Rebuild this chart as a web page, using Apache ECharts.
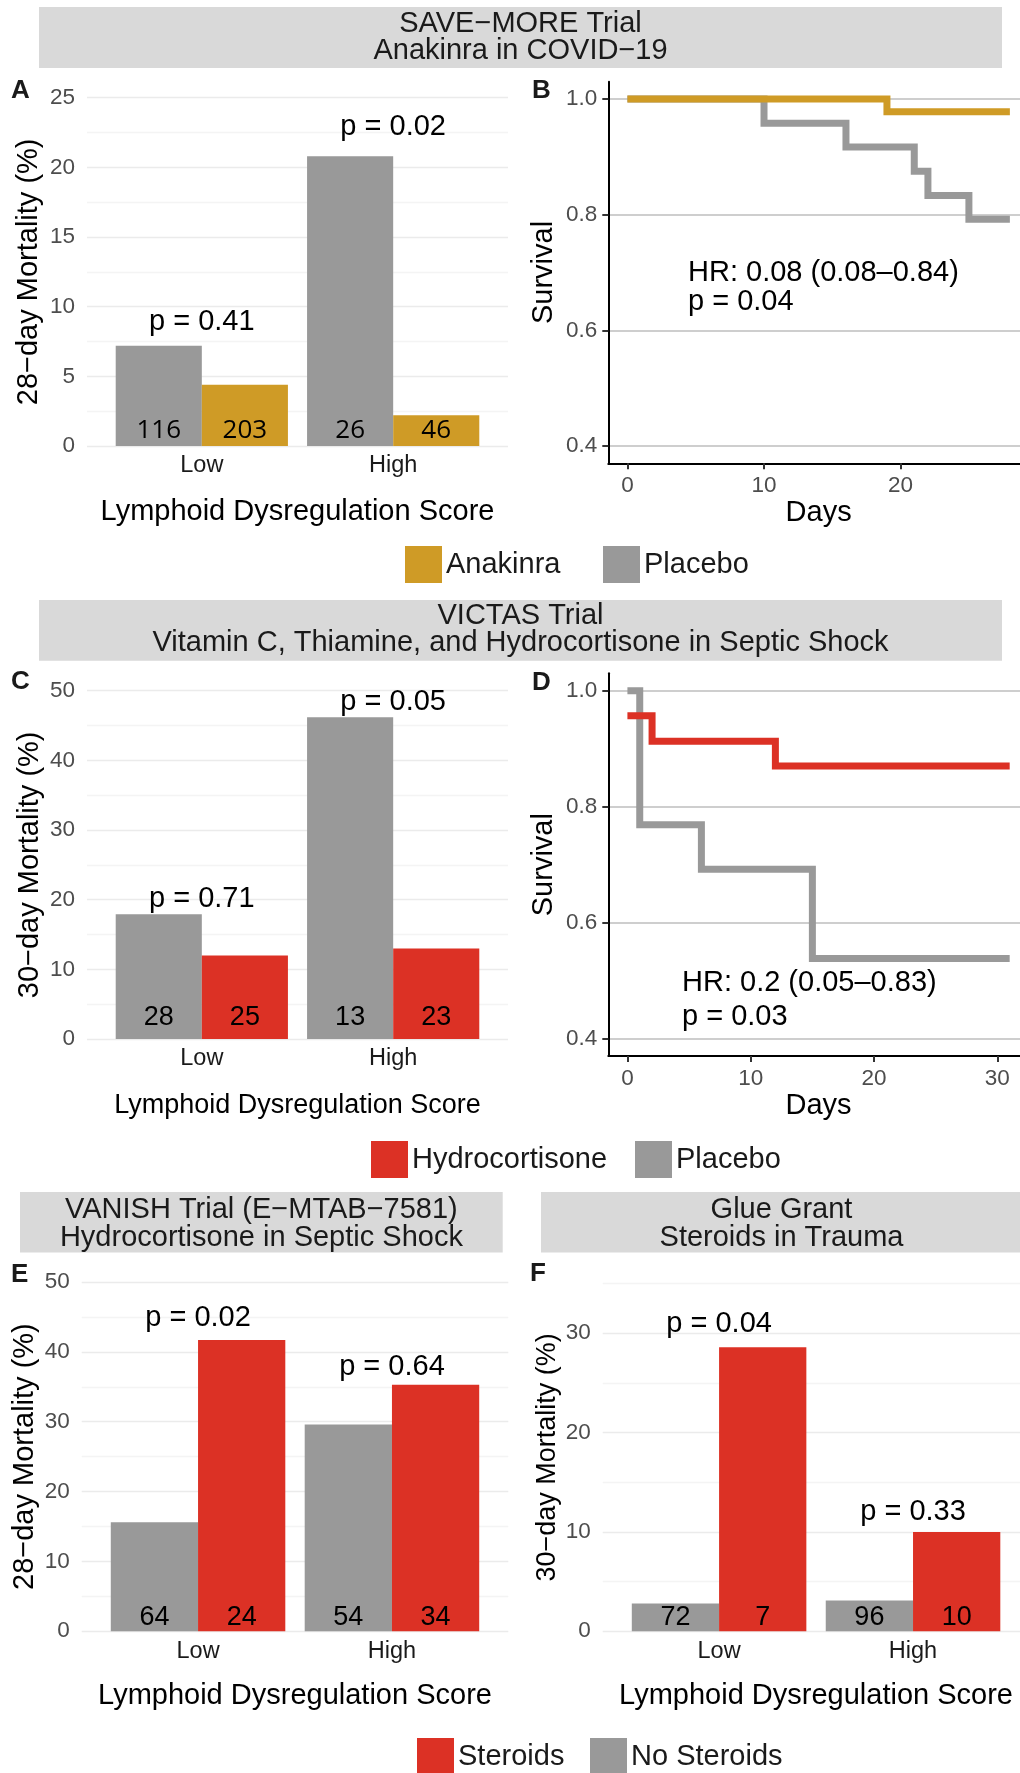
<!DOCTYPE html>
<html><head><meta charset="utf-8">
<script src="https://cdn.jsdelivr.net/npm/echarts@6/dist/echarts.min.js"></script>
<style>html,body{margin:0;padding:0;background:#fff}#c{width:1020px;height:1773px}</style>
</head><body><div id="c"></div>
<script>
// ---------------- DATA ----------------
const categories = ['Low', 'High'];

// Panel A: SAVE-MORE 28-day mortality (%)
const saveMorePlacebo = [7.2, 20.8];
const saveMoreAnakinra = [4.4, 2.2];
const saveMorePlaceboN = [116, 26];
const saveMoreAnakinraN = [203, 46];
const saveMoreP = ['p = 0.41', 'p = 0.02'];

// Panel B: SAVE-MORE Kaplan-Meier (High group)
const kmBPlaceboDays = [0, 10, 16, 21, 22, 25, 28];
const kmBPlaceboSurv = [1.0, 0.958, 0.917, 0.875, 0.833, 0.792, 0.792];
const kmBAnakinraDays = [0, 19, 28];
const kmBAnakinraSurv = [1.0, 0.978, 0.978];
const kmBTicksX = [0, 10, 20];

// Panel C: VICTAS 30-day mortality (%)
const victasPlacebo = [17.9, 46.2];
const victasHydro = [12.0, 13.0];
const victasPlaceboN = [28, 13];
const victasHydroN = [25, 23];
const victasP = ['p = 0.71', 'p = 0.05'];

// Panel D: VICTAS Kaplan-Meier
const kmDPlaceboDays = [0, 1, 6, 15, 31];
const kmDPlaceboSurv = [1.0, 0.769, 0.692, 0.538, 0.538];
const kmDHydroDays = [0, 2, 12, 31];
const kmDHydroSurv = [0.957, 0.913, 0.870, 0.870];
const kmDTicksX = [0, 10, 20, 30];

const kmTicksY = [0.4, 0.6, 0.8, 1.0];

// Panel E: VANISH 28-day mortality (%)
const vanishNoSteroids = [15.6, 29.6];
const vanishSteroids = [41.7, 35.3];
const vanishNoSteroidsN = [64, 54];
const vanishSteroidsN = [24, 34];
const vanishP = ['p = 0.02', 'p = 0.64'];

// Panel F: Glue Grant 30-day mortality (%)
const glueNoSteroids = [2.8, 3.1];
const glueSteroids = [28.6, 10.0];
const glueNoSteroidsN = [72, 96];
const glueSteroidsN = [7, 10];
const glueP = ['p = 0.04', 'p = 0.33'];

// ---------------- STYLE ----------------
const FONT = '"Liberation Sans", Arial, Helvetica, sans-serif';
const GRAY = '#999999', GOLD = '#CF9B26', RED = '#DC3125';
const XTITLE = 'Lymphoid Dysregulation Score';
const BIG = 29, TICK = 22.5;

const barPanels = [
  { grid: {left: 87, top: 97.7, width: 421, height: 348.3}, yMax: 25, yStep: 2.5, yMajor: 5,
    yName: '28−day Mortality (%)', yNameSize: BIG, yNameGap: 44, xNameSize: BIG, xNameGap: 51,
    arms: [{name: 'Placebo', color: GRAY, vals: saveMorePlacebo, n: saveMorePlaceboN},
           {name: 'Anakinra', color: GOLD, vals: saveMoreAnakinra, n: saveMoreAnakinraN}],
    p: saveMoreP, pOffset: [24, 29], nOffset: 15, nFont: '"Open Sans", sans-serif', nSize: 26 },
  { grid: {left: 87, top: 690.7, width: 421, height: 348.3}, yMax: 50, yStep: 5, yMajor: 10,
    yName: '30−day Mortality (%)', yNameSize: BIG, yNameGap: 43, xNameSize: 27, xNameGap: 53,
    arms: [{name: 'Placebo', color: GRAY, vals: victasPlacebo, n: victasPlaceboN},
           {name: 'Hydrocortisone', color: RED, vals: victasHydro, n: victasHydroN}],
    p: victasP, pOffset: [15, 15], nOffset: 21, nFont: FONT, nSize: 27 },
  { grid: {left: 81.7, top: 1282, width: 426.6, height: 349.2}, yMax: 50, yStep: 5, yMajor: 10,
    yName: '28−day Mortality (%)', yNameSize: BIG, yNameGap: 42, xNameSize: BIG, xNameGap: 50,
    arms: [{name: 'No Steroids', color: GRAY, vals: vanishNoSteroids, n: vanishNoSteroidsN},
           {name: 'Steroids', color: RED, vals: vanishSteroids, n: vanishSteroidsN}],
    p: vanishP, pOffset: [22, 18], nOffset: 13.5, nFont: FONT, nSize: 27 },
  { grid: {left: 602.7, top: 1283.6, width: 426.7, height: 347.6}, yMax: 35, yStep: 5, yMajor: 10,
    yName: '30−day Mortality (%)', yNameSize: 27, yNameGap: 42, xNameSize: BIG, xNameGap: 50,
    arms: [{name: 'No Steroids', color: GRAY, vals: glueNoSteroids, n: glueNoSteroidsN},
           {name: 'Steroids', color: RED, vals: glueSteroids, n: glueSteroidsN}],
    p: glueP, pOffset: [22.7, 20], nOffset: 13.5, nFont: FONT, nSize: 27 }
];

const kmPanels = [
  { grid: {left: 608.3, top: 81.7, width: 420.7, height: 381.6}, xMin: -1.4, xMax: 29.4, ticksX: kmBTicksX,
    curves: [{name: 'Placebo', color: GRAY, days: kmBPlaceboDays, surv: kmBPlaceboSurv},
             {name: 'Anakinra', color: GOLD, days: kmBAnakinraDays, surv: kmBAnakinraSurv}] },
  { grid: {left: 608.3, top: 673.3, width: 420.5, height: 382.7}, xMin: -1.55, xMax: 32.55, ticksX: kmDTicksX,
    curves: [{name: 'Placebo', color: GRAY, days: kmDPlaceboDays, surv: kmDPlaceboSurv},
             {name: 'Hydrocortisone', color: RED, days: kmDHydroDays, surv: kmDHydroSurv}] }
];

const grids = [], xAxes = [], yAxes = [], series = [];

function isMult(v, m) { const r = v / m; return Math.abs(r - Math.round(r)) < 1e-6; }

barPanels.forEach(function (P) {
  const gi = grids.length;
  grids.push(Object.assign({outerBoundsMode: 'none', containLabel: false}, P.grid));
  xAxes.push({
    gridIndex: gi, type: 'value', min: 0.4, max: 2.6, interval: 0.2,
    axisLine: {show: false, onZero: false}, axisTick: {show: false}, splitLine: {show: false},
    axisLabel: {customValues: [1, 2], showMinLabel: true, showMaxLabel: true,
      formatter: function (v) { return Math.abs(v - 1) < 1e-6 ? categories[0] : (Math.abs(v - 2) < 1e-6 ? categories[1] : ''); },
      color: '#1A1A1A', fontSize: 23.5, fontFamily: FONT, margin: 8},
    name: XTITLE, nameLocation: 'middle', nameGap: P.xNameGap,
    nameTextStyle: {fontSize: P.xNameSize, color: '#000', fontFamily: FONT}
  });
  yAxes.push({
    gridIndex: gi, type: 'value', min: 0, max: P.yMax, interval: P.yStep,
    axisLine: {show: false, onZero: false}, axisTick: {show: false},
    splitLine: {show: true, lineStyle: {color: ['#EBEBEB', '#F4F4F4'], width: 1.4}},
    axisLabel: {showMinLabel: true, showMaxLabel: true,
      formatter: function (v) { return isMult(v, P.yMajor) ? String(Math.round(v)) : ''; },
      color: '#4D4D4D', fontSize: TICK, fontFamily: FONT, margin: 12},
    name: P.yName, nameLocation: 'middle', nameRotate: 90, nameGap: P.yNameGap,
    nameTextStyle: {fontSize: P.yNameSize, color: '#000', fontFamily: FONT}
  });
  P.arms.forEach(function (arm, k) {
    const off = k === 0 ? -0.225 : 0.225;
    series.push({
      type: 'custom', name: arm.name, xAxisIndex: gi, yAxisIndex: gi,
      itemStyle: {color: arm.color}, silent: true, z: 2,
      data: arm.vals.map(function (v, i) { return [i + 1, v]; }),
      encode: {x: 0, y: 1},
      renderItem: function (params, api) {
        const x = api.value(0), v = api.value(1);
        const a = api.coord([x + off - 0.225, v]);
        const b = api.coord([x + off + 0.225, 0]);
        return {type: 'group', children: [
          {type: 'rect', shape: {x: a[0], y: a[1], width: b[0] - a[0], height: b[1] - a[1]}, style: {fill: arm.color}},
          {type: 'text', x: (a[0] + b[0]) / 2, y: b[1] - P.nOffset, z2: 5,
           style: {text: String(arm.n[params.dataIndex]), fill: '#000', fontSize: P.nSize, fontFamily: P.nFont,
                   align: 'center', verticalAlign: 'middle'}}
        ]};
      }
    });
  });
  const maxVals = categories.map(function (c, i) { return Math.max(P.arms[0].vals[i], P.arms[1].vals[i]); });
  series.push({
    type: 'custom', name: 'pvalues', xAxisIndex: gi, yAxisIndex: gi, silent: true, z: 3,
    data: maxVals.map(function (v, i) { return [i + 1, v]; }),
    encode: {x: 0, y: 1},
    renderItem: function (params, api) {
      const c = api.coord([api.value(0), api.value(1)]);
      return {type: 'text', x: c[0], y: c[1] - P.pOffset[params.dataIndex],
        style: {text: P.p[params.dataIndex], fill: '#000', fontSize: BIG, fontFamily: FONT, align: 'center', verticalAlign: 'middle'}};
    }
  });
});

kmPanels.forEach(function (K) {
  const gi = grids.length;
  grids.push(Object.assign({outerBoundsMode: 'none', containLabel: false}, K.grid));
  xAxes.push({
    gridIndex: gi, type: 'value', min: K.xMin, max: K.xMax,
    axisLine: {show: true, onZero: false, lineStyle: {color: '#000', width: 2}},
    axisTick: {show: true, customValues: K.ticksX, length: 6, lineStyle: {color: '#333', width: 2}},
    axisLabel: {customValues: K.ticksX, color: '#4D4D4D', fontSize: TICK, fontFamily: FONT, margin: 11},
    splitLine: {show: false},
    name: 'Days', nameLocation: 'middle', nameGap: 35,
    nameTextStyle: {fontSize: BIG, color: '#000', fontFamily: FONT}
  });
  yAxes.push({
    gridIndex: gi, type: 'value', min: 0.37, max: 1.03,
    axisLine: {show: true, onZero: false, lineStyle: {color: '#000', width: 2}},
    axisTick: {show: true, customValues: kmTicksY, length: 6, lineStyle: {color: '#333', width: 2}},
    axisLabel: {customValues: kmTicksY, formatter: function (v) { return v.toFixed(1); },
      color: '#4D4D4D', fontSize: TICK, fontFamily: FONT, margin: 11},
    splitLine: {show: true, lineStyle: {color: '#BEBEBE', width: 1.5}},
    name: 'Survival', nameLocation: 'middle', nameRotate: 90, nameGap: 50,
    nameTextStyle: {fontSize: BIG, color: '#000', fontFamily: FONT}
  });
  K.curves.forEach(function (cv, k) {
    series.push({
      type: 'line', name: cv.name, xAxisIndex: gi, yAxisIndex: gi, step: 'end',
      showSymbol: false, symbol: 'none', silent: true, z: 2 + k,
      lineStyle: {color: cv.color, width: 7, cap: 'butt', join: 'miter'},
      itemStyle: {color: cv.color},
      data: cv.days.map(function (d, i) { return [d, cv.surv[i]]; })
    });
  });
});

function legendItem(name, x, y) {
  return {data: [name], left: x, top: y, itemWidth: 37, itemHeight: 37, itemGap: 0, padding: 0,
    icon: 'rect', selectedMode: false, orient: 'horizontal',
    textStyle: {fontSize: BIG, color: '#1A1A1A', fontFamily: FONT, padding: [0, 0, 0, -1]}};
}

function strip(x1, x2, y1, y2, line1, line2, cx, c1, c2) {
  return [
    {type: 'rect', shape: {x: x1, y: y1, width: x2 - x1, height: y2 - y1}, style: {fill: '#D9D9D9'}, silent: true, z: 0},
    {type: 'text', x: cx, y: c1, style: {text: line1, fill: '#1A1A1A', fontSize: BIG, fontFamily: FONT, align: 'center', verticalAlign: 'middle'}, z: 1},
    {type: 'text', x: cx, y: c2, style: {text: line2, fill: '#1A1A1A', fontSize: BIG, fontFamily: FONT, align: 'center', verticalAlign: 'middle'}, z: 1}
  ];
}
function letter(t, x, y) {
  return {type: 'text', x: x, y: y, style: {text: t, fill: '#1A1A1A', fontSize: 26, fontWeight: 'bold', fontFamily: FONT, align: 'left', verticalAlign: 'top'}, z: 1};
}
function note(t, x, y) {
  return {type: 'text', x: x, y: y, style: {text: t, fill: '#000', fontSize: BIG, fontFamily: FONT, align: 'left', verticalAlign: 'middle'}, z: 5};
}

const graphics = [].concat(
  strip(39, 1002, 7, 68, 'SAVE−MORE Trial', 'Anakinra in COVID−19', 520.5, 24, 51),
  strip(39, 1002, 600, 660.7, 'VICTAS Trial', 'Vitamin C, Thiamine, and Hydrocortisone in Septic Shock', 520.5, 616, 642.5),
  strip(20, 502.7, 1192, 1252.6, 'VANISH Trial (E−MTAB−7581)', 'Hydrocortisone in Septic Shock', 261.4, 1210, 1237.5),
  strip(541, 1022, 1192, 1252.6, 'Glue Grant', 'Steroids in Trauma', 781.5, 1210, 1237.5),
  [letter('A', 11, 78), letter('B', 532, 78), letter('C', 11, 669), letter('D', 532, 670),
   letter('E', 11, 1262), letter('F', 530, 1261),
   note('HR: 0.08 (0.08–0.84)', 688, 273), note('p = 0.04', 688, 302),
   note('HR: 0.2 (0.05–0.83)', 682, 983), note('p = 0.03', 682, 1017)]
);

const chart = echarts.init(document.getElementById('c'), null, {renderer: 'canvas', width: 1020, height: 1773});
chart.setOption({
  animation: false,
  backgroundColor: '#ffffff',
  textStyle: {fontFamily: FONT},
  grid: grids,
  xAxis: xAxes,
  yAxis: yAxes,
  series: series,
  legend: [
    legendItem('Anakinra', 405, 546), legendItem('Placebo', 603, 546),
    legendItem('Hydrocortisone', 371, 1141), legendItem('Placebo', 635, 1141),
    legendItem('Steroids', 417, 1738), legendItem('No Steroids', 590, 1738)
  ],
  graphic: graphics
});
</script>
</body></html>
